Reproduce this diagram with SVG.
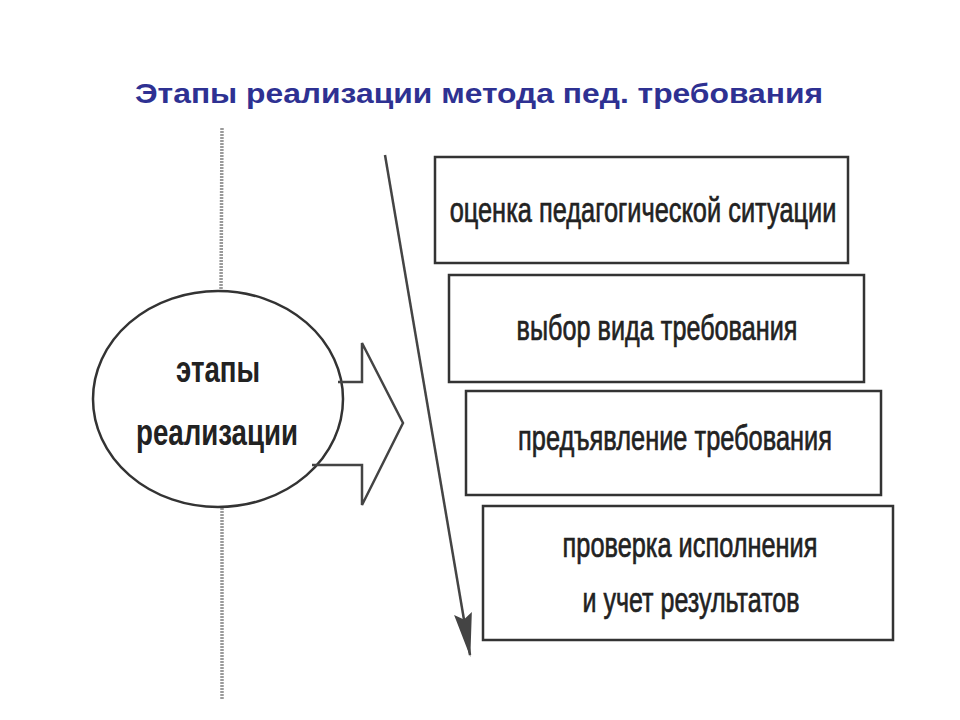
<svg xmlns="http://www.w3.org/2000/svg" width="960" height="720" viewBox="0 0 960 720">
<defs>
<style>
.title{font-family:"Liberation Sans",Arial,sans-serif;font-weight:bold;font-size:28px;fill:#2e3192;}
.lbl{font-family:"Liberation Sans",Arial,sans-serif;font-size:36px;fill:#222;stroke:#222;stroke-width:0.7;}
.elbl{font-family:"Liberation Sans",Arial,sans-serif;font-weight:bold;font-size:36px;fill:#222;}
.box{fill:#fff;stroke:#333;stroke-width:2.5;}
.axis{stroke:#9a9a9a;stroke-width:3.5;stroke-dasharray:2 1;fill:none;}
.line{stroke:#444;stroke-width:2.5;fill:none;}
</style>
<marker id="ah" markerWidth="44" markerHeight="18" refX="42" refY="9" orient="auto" markerUnits="userSpaceOnUse" viewBox="0 0 44 18">
<path d="M0,0 L44,9 L0,18 L6,9 Z" fill="#444"/>
</marker>
</defs>
<rect width="960" height="720" fill="#fff"/>
<text class="title" x="479" y="103" text-anchor="middle" textLength="688" lengthAdjust="spacingAndGlyphs">Этапы реализации метода пед. требования</text>
<g id="axis">
<line class="axis" x1="222" y1="128" x2="221" y2="292"/>
<line class="axis" x1="222" y1="508" x2="222" y2="700"/>
</g>
<g id="ellipse">
<ellipse cx="218" cy="399" rx="125" ry="108" fill="#fff" stroke="#333" stroke-width="2.5"/>
<text class="elbl" x="218" y="382" text-anchor="middle" textLength="84" lengthAdjust="spacingAndGlyphs">этапы</text>
<text class="elbl" x="217" y="445" text-anchor="middle" textLength="162" lengthAdjust="spacingAndGlyphs">реализации</text>
</g>
<g id="stage1">
<rect class="box" x="435" y="157" width="413" height="106"/>
<text class="lbl" transform="translate(643,222) scale(0.65,1)" x="0" y="0" text-anchor="middle" textLength="595" lengthAdjust="spacingAndGlyphs">оценка педагогической ситуации</text>
</g>
<g id="stage2">
<rect class="box" x="449" y="275" width="415" height="107"/>
<text class="lbl" transform="translate(657,340) scale(0.65,1)" x="0" y="0" text-anchor="middle" textLength="432" lengthAdjust="spacingAndGlyphs">выбор вида требования</text>
</g>
<g id="stage3">
<rect class="box" x="466" y="391" width="415" height="104"/>
<text class="lbl" transform="translate(675,450) scale(0.65,1)" x="0" y="0" text-anchor="middle" textLength="483" lengthAdjust="spacingAndGlyphs">предъявление требования</text>
</g>
<g id="stage4">
<rect class="box" x="483" y="506" width="410" height="134"/>
<text class="lbl" transform="translate(690,557) scale(0.65,1)" x="0" y="0" text-anchor="middle" textLength="392" lengthAdjust="spacingAndGlyphs">проверка исполнения</text>
<text class="lbl" transform="translate(691,612) scale(0.65,1)" x="0" y="0" text-anchor="middle" textLength="334" lengthAdjust="spacingAndGlyphs">и учет результатов</text>
</g>
<g id="connectors">
<path class="line" d="M338,382 L362,382 L362,343 L403,423 L362,505 L362,465 L312,465" fill="#fff"/>
<path class="line" d="M385,155 L470,655" marker-end="url(#ah)"/>
</g>
</svg>
